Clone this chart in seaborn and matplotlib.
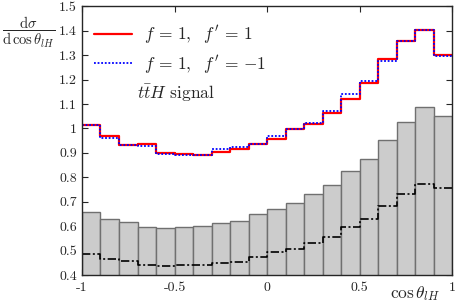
import numpy as np
import pandas as pd
import matplotlib
matplotlib.use("Agg")
import matplotlib.pyplot as plt
import seaborn as sns
from matplotlib.lines import Line2D

edges = np.linspace(-1, 1, 21).tolist()
centers = [0.5 * (a + b) for a, b in zip(edges[:-1], edges[1:])]

# f = 1, f' = 1
red = [1.016, 0.968, 0.934, 0.937, 0.899, 0.895, 0.893, 0.904, 0.918, 0.936,
       0.955, 0.998, 1.019, 1.065, 1.121, 1.188, 1.284, 1.356, 1.404, 1.300]
# f = 1, f' = -1
blue = [1.016, 0.963, 0.932, 0.929, 0.896, 0.893, 0.891, 0.916, 0.925, 0.936,
        0.970, 0.996, 1.023, 1.070, 1.141, 1.194, 1.275, 1.356, 1.404, 1.297]
# grey background histogram
grey = [0.658, 0.631, 0.616, 0.598, 0.594, 0.598, 0.602, 0.613, 0.623, 0.649,
        0.672, 0.697, 0.731, 0.768, 0.824, 0.873, 0.954, 1.025, 1.089, 1.053]
# dash-dot
black = [0.486, 0.467, 0.457, 0.441, 0.437, 0.440, 0.443, 0.451, 0.453, 0.475,
         0.493, 0.507, 0.531, 0.556, 0.597, 0.628, 0.684, 0.731, 0.773, 0.757]

xticks = [-1, -0.5, 0, 0.5, 1]
xticklabels = ["-1", "-0.5", "0", "0.5", "1"]
yticks = [0.4, 0.5, 0.6, 0.7, 0.8, 0.9, 1.0, 1.1, 1.2, 1.3, 1.4, 1.5]
yticklabels = ["0.4", "0.5", "0.6", "0.7", "0.8", "0.9", "1", "1.1", "1.2", "1.3", "1.4", "1.5"]

df = pd.DataFrame({"x": centers, "red": red, "blue": blue, "grey": grey, "black": black})

sns.set_style("ticks")
plt.rcParams["font.family"] = ["cmr10", "DejaVu Serif"]
plt.rcParams["mathtext.fontset"] = "cm"
plt.rcParams["axes.unicode_minus"] = False
plt.rcParams["axes.formatter.use_mathtext"] = True

fig = plt.figure(figsize=(4.58, 3.07), dpi=100)
ax = fig.add_axes([0.179, 0.104, 0.8086, 0.8755])

sns.histplot(data=df, x="x", weights="grey", bins=edges, element="bars", fill=True,
             color="#cccccc", edgecolor="#707070", linewidth=1.0, alpha=1, ax=ax)
sns.histplot(data=df, x="x", weights="black", bins=edges, element="step", fill=False,
             color="black", linewidth=1.2, linestyle=(0, (5, 1.5, 1.2, 1.5)), ax=ax)
sns.histplot(data=df, x="x", weights="red", bins=edges, element="step", fill=False,
             color="red", linewidth=1.6, ax=ax)
sns.histplot(data=df, x="x", weights="blue", bins=edges, element="step", fill=False,
             color="blue", linewidth=1.3, linestyle=(0, (1, 1)), ax=ax)

ax.set_xlim(-1, 1)
ax.set_ylim(0.4, 1.5)
ax.set_xticks(xticks)
ax.set_xticklabels(xticklabels)
ax.set_yticks(yticks)
ax.set_yticklabels(yticklabels)
ax.tick_params(direction="in", length=4, top=True, right=True, labelsize=10, width=0.8)
ax.tick_params(axis="x", pad=5)
ax.set_xlabel("")
ax.set_ylabel("")
for s in ax.spines.values():
    s.set_linewidth(1.0)

handles = [Line2D([], [], color="red", lw=1.6),
           Line2D([], [], color="blue", lw=1.3, ls=(0, (1, 1)))]
ax.legend(handles, [r"$f\,=\,1,\ \ f^{\prime}\,=\,1$", r"$f\,=\,1,\ \ f^{\prime}\,=\,{-1}$"],
          loc="upper left", frameon=False, fontsize=12.5, handlelength=2.2,
          handletextpad=0.7, bbox_to_anchor=(0.0, 0.98), borderaxespad=0.3,
          labelspacing=0.4)
ax.text(0.148, 0.656, r"$t\bar{t}H$ signal", transform=ax.transAxes, fontsize=12.5)

fig.text(0.062, 0.893, r"$\dfrac{\mathrm{d}\sigma}{\mathrm{d}\,\cos\theta_{lH}}$",
         ha="center", va="center", fontsize=10.5)
fig.text(0.962, 0.045, r"$\cos\theta_{lH}$", ha="right", va="center", fontsize=12.5)

fig.savefig("out.png", dpi=100)
